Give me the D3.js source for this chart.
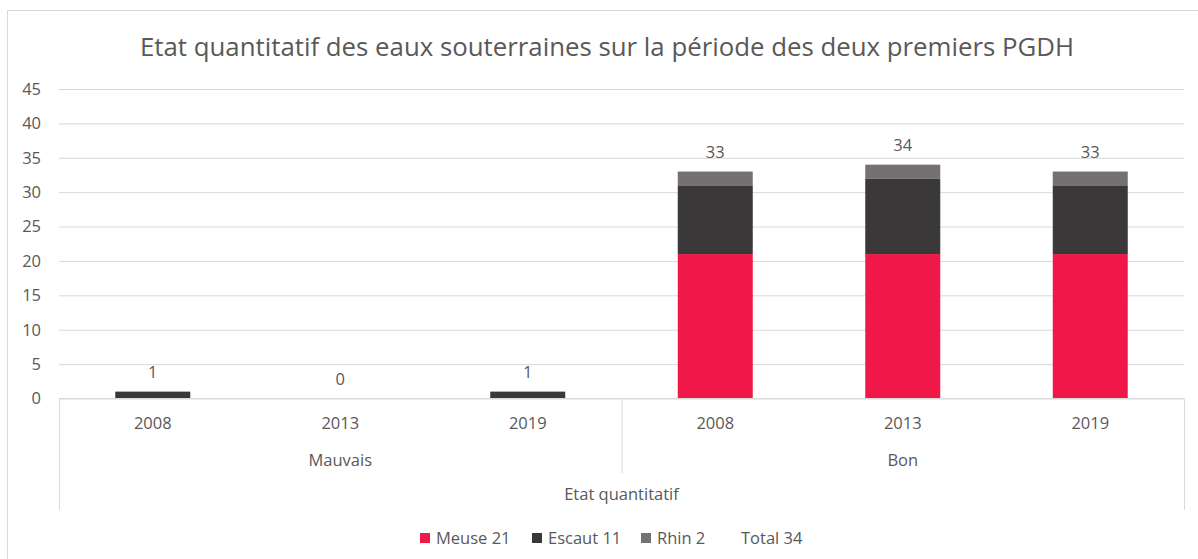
<!DOCTYPE html>
<html>
<head>
<meta charset="utf-8">
<script src="https://cdn.jsdelivr.net/npm/d3@7"></script>
<style>
  body { margin: 0; background: #fff; }
  text { font-family: "Open Sans", sans-serif; fill: #595959; }
</style>
</head>
<body>
<div id="chart"></div>
<script>

// Chart data
const states = ["Mauvais", "Bon"];
const years = ["2008", "2013", "2019"];
const meuse = [0, 0, 0, 21, 21, 21];
const escaut = [1, 0, 1, 10, 11, 10];
const rhin = [0, 0, 0, 2, 2, 2];
const yTicks = [0, 5, 10, 15, 20, 25, 30, 35, 40, 45];
const legendLabels = ["Meuse 21", "Escaut 11", "Rhin 2", "Total 34"];
const colors = ["#EF1848", "#3A3839", "#767171"];

// Set dimensions and margins
const width = 1198;
const height = 559;
const margin = {left: 59, right: 14, top: 89, bottom: 160};

const svg = d3.select("#chart")
  .append("svg")
  .attr("width", width)
  .attr("height", height);

// outer frame
svg.append("rect")
  .attr("x", 7.5).attr("y", 10.5)
  .attr("width", width).attr("height", height)
  .attr("fill", "none")
  .attr("stroke", "#D9D9D9");

// build rows from the arrays
const rows = [];
states.forEach((s, si) => {
  years.forEach((y, yi) => {
    const i = si * years.length + yi;
    rows.push({key: s + "-" + y, state: s, year: y, meuse: meuse[i], escaut: escaut[i], rhin: rhin[i]});
  });
});
rows.forEach(d => d.total = d.meuse + d.escaut + d.rhin);

/*
  Scales
*/
let yScale = d3.scaleLinear()
  .domain([0, 45])
  .range([398.5, margin.top]);

let xScale = d3.scaleBand()
  .domain(rows.map(d => d.key))
  .range([margin.left, 1184])
  .padding(0);

let stateScale = d3.scaleBand()
  .domain(states)
  .range([margin.left, 1184]);

const barW = xScale.bandwidth() * 0.4;

// Title
svg.append("text")
  .attr("x", 607)
  .attr("y", 56)
  .attr("text-anchor", "middle")
  .attr("font-size", "25.8px")
  .text("Etat quantitatif des eaux souterraines sur la période des deux premiers PGDH");

// gridlines + y labels
const yAxis = svg.append("g")
  .attr("transform", `translate(${margin.left},0)`)
  .call(d3.axisLeft(yScale).tickValues(yTicks).tickSize(-(1184 - margin.left)).tickPadding(18));
yAxis.select(".domain").remove();
yAxis.selectAll(".tick line").attr("stroke", "#D9D9D9");
yAxis.selectAll(".tick text")
  .attr("font-size", "16.5px")
  .attr("font-family", "Open Sans, sans-serif")
  .attr("fill", "#595959");

/*
  Bars
*/
const stack = d3.stack().keys(["meuse", "escaut", "rhin"]);
const series = stack(rows);

svg.append("g")
  .selectAll("g")
  .data(series)
  .enter()
  .append("g")
    .attr("fill", (d, i) => colors[i])
  .selectAll("rect")
  .data(d => d)
  .enter()
  .append("rect")
    .attr("x", d => xScale(d.data.key) + (xScale.bandwidth() - barW) / 2)
    .attr("y", d => yScale(d[1]))
    .attr("width", barW)
    .attr("height", d => yScale(d[0]) - yScale(d[1]));

// total labels
svg.append("g")
  .selectAll("text")
  .data(rows)
  .enter()
  .append("text")
    .attr("x", d => xScale(d.key) + xScale.bandwidth() / 2)
    .attr("y", d => yScale(d.total) - 14)
    .attr("text-anchor", "middle")
    .attr("font-size", "16.5px")
    .attr("fill", "#404040")
    .text(d => d.total);

/*
  Multi level x axis
*/
const axisG = svg.append("g").attr("stroke", "#D9D9D9");
axisG.append("line")
  .attr("x1", margin.left).attr("x2", 1184)
  .attr("y1", yScale(0)).attr("y2", yScale(0));
// left and right edges
[margin.left, 1184].forEach(x => {
  axisG.append("line")
    .attr("x1", x + 0.5).attr("x2", x + 0.5)
    .attr("y1", yScale(0)).attr("y2", 510);
});
// divider between the two states
axisG.append("line")
  .attr("x1", stateScale("Bon") + 0.5).attr("x2", stateScale("Bon") + 0.5)
  .attr("y1", yScale(0)).attr("y2", 473);

// year labels
svg.append("g")
  .selectAll("text")
  .data(rows)
  .enter()
  .append("text")
    .attr("x", d => xScale(d.key) + xScale.bandwidth() / 2)
    .attr("y", 429)
    .attr("text-anchor", "middle")
    .attr("font-size", "16.5px")
    .text(d => d.year);

// state labels
svg.append("g")
  .selectAll("text")
  .data(states)
  .enter()
  .append("text")
    .attr("x", d => stateScale(d) + stateScale.bandwidth() / 2)
    .attr("y", 466)
    .attr("text-anchor", "middle")
    .attr("font-size", "16.5px")
    .text(d => d);

svg.append("text")
  .attr("x", (margin.left + 1184) / 2)
  .attr("y", 500)
  .attr("text-anchor", "middle")
  .attr("font-size", "16.5px")
  .text("Etat quantitatif");

/*
  Legend
*/
const legendX = [420, 532, 641, 741];
const legend = svg.append("g");
legendLabels.forEach((lab, i) => {
  if (i < colors.length) {
    legend.append("rect")
      .attr("x", legendX[i]).attr("y", 533)
      .attr("width", 10).attr("height", 10)
      .attr("fill", colors[i]);
  }
  legend.append("text")
    .attr("x", i < colors.length ? legendX[i] + 16 : legendX[i])
    .attr("y", 544)
    .attr("font-size", "16.5px")
    .text(lab);
});

</script>
</body>
</html>
